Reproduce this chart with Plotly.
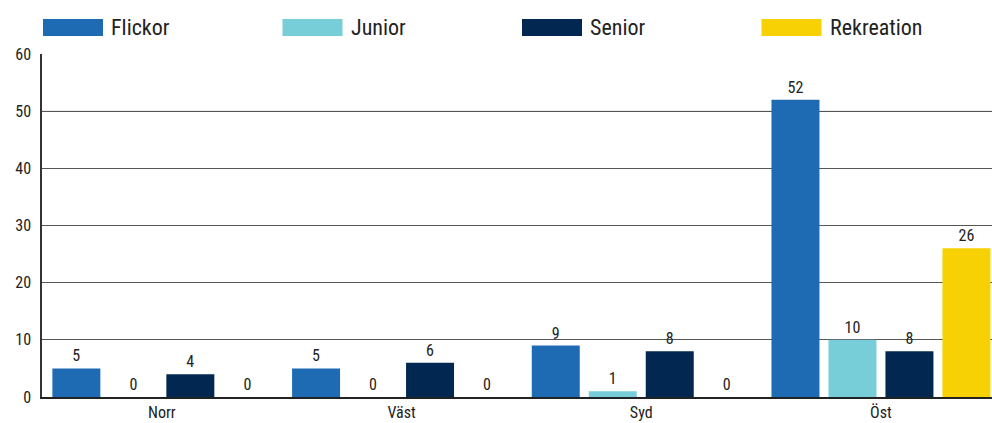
import plotly.graph_objects as go

categories = ["Norr", "Väst", "Syd", "Öst"]
series_names = ["Flickor", "Junior", "Senior", "Rekreation"]
flickor = [5, 5, 9, 52]
junior = [0, 0, 1, 10]
senior = [4, 6, 8, 8]
rekreation = [0, 0, 0, 26]
colors = ["#1E6BB4", "#77CDD8", "#022751", "#F7D103"]
y_ticks = [0, 10, 20, 30, 40, 50, 60]

values = [flickor, junior, senior, rekreation]

FONT = "Roboto Condensed, Roboto, sans-serif"
W, H = 992, 423
L, R, T, B = 42, 0, 54, 26
pw, ph = W - L - R, H - T - B
cat_px = 239.7  # pixel width of one category band

fig = go.Figure()
for name, vals, col in zip(series_names, values, colors):
    fig.add_trace(go.Bar(
        x=categories, y=vals, name=name, marker=dict(color=col, line=dict(width=0)),
        text=[str(v) for v in vals], textposition="outside", cliponaxis=False,
        textfont=dict(family=FONT, size=16, color="#222"), showlegend=False,
    ))

# custom legend
shapes = []
annotations = []
for i, (name, col) in enumerate(zip(series_names, colors)):
    x0 = 43 + i * 239.5
    shapes.append(dict(type="rect", xref="paper", yref="paper",
                       x0=(x0 - L) / pw, x1=(x0 + 60 - L) / pw,
                       y0=1 + (T - 36) / ph, y1=1 + (T - 19) / ph,
                       fillcolor=col, line=dict(width=0)))
    annotations.append(dict(xref="paper", yref="paper", x=(x0 + 66 - L) / pw,
                            y=1 + (T - 27.5) / ph, xanchor="left", yanchor="middle",
                            text=name, showarrow=False,
                            font=dict(family=FONT, size=22, color="#222")))

# lighter gridline at 50
shapes.append(dict(type="line", xref="paper", yref="y", x0=0, x1=1, y0=50, y1=50,
                   line=dict(color="#cccccc", width=1), layer="below"))

fig.update_layout(
    width=W, height=H,
    margin=dict(l=L, r=R, t=T, b=B, autoexpand=False),
    paper_bgcolor="white", plot_bgcolor="white",
    barmode="group", bargap=0.049, bargroupgap=0.158,
    font=dict(family=FONT, color="#222"),
    shapes=shapes, annotations=annotations,
    showlegend=False,
)
fig.update_xaxes(showline=True, linecolor="#222", linewidth=1.5, ticks="",
                 tickfont=dict(family=FONT, size=16, color="#222"), showgrid=False,
                 automargin=False, range=[-0.5, -0.5 + pw / cat_px])
fig.update_yaxes(range=[0, 60], tickvals=y_ticks, showline=True, linecolor="#333",
                 linewidth=1.5, gridcolor="#555", gridwidth=1, zeroline=False,
                 tickfont=dict(family=FONT, size=16, color="#222"), ticks="",
                 ticklabelstandoff=6, automargin=False)

fig.write_html("out.html", config={"displayModeBar": False},
               post_script="document.body.style.margin='0';")
